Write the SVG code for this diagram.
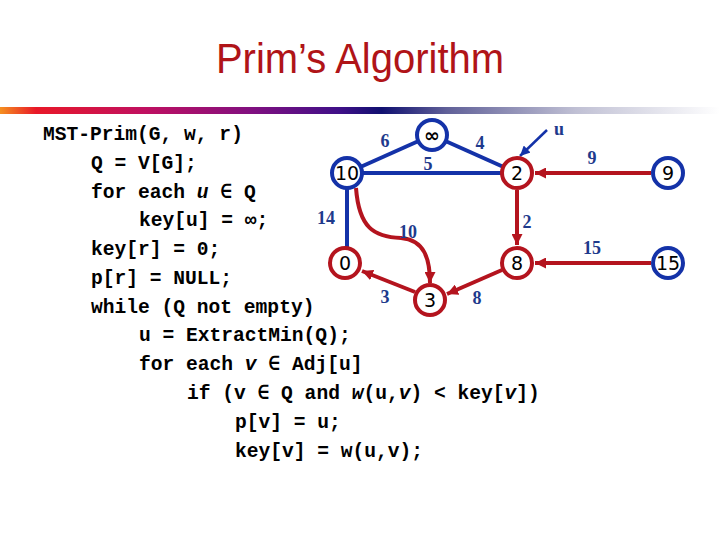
<svg xmlns="http://www.w3.org/2000/svg" width="720" height="540" viewBox="0 0 720 540">
<defs>
<linearGradient id="bar" x1="0" y1="0" x2="1" y2="0">
<stop offset="0" stop-color="#F59020"/>
<stop offset="0.05" stop-color="#E81828"/>
<stop offset="0.2" stop-color="#C01060"/>
<stop offset="0.35" stop-color="#801080"/>
<stop offset="0.47" stop-color="#401088"/>
<stop offset="0.53" stop-color="#101070"/>
<stop offset="0.62" stop-color="#606098"/>
<stop offset="0.8" stop-color="#C0C0D4"/>
<stop offset="1" stop-color="#FFFFFF"/>
</linearGradient>
<marker id="ar" viewBox="0 0 10 10" refX="10" refY="5" markerWidth="11" markerHeight="11" markerUnits="userSpaceOnUse" orient="auto">
<path d="M0,0 L10,5 L0,10 z" fill="#B4141E"/>
</marker>
<marker id="ab" viewBox="0 0 10 10" refX="10" refY="5" markerWidth="10" markerHeight="10" markerUnits="userSpaceOnUse" orient="auto">
<path d="M0,0 L10,5 L0,10 z" fill="#1432A8"/>
</marker>
</defs>
<style>
.title{font-family:"Liberation Sans",Arial,sans-serif;font-size:40px;fill:#B01418;}
.code{font-family:"Liberation Mono","Courier New",monospace;font-size:19.6px;font-weight:bold;fill:#000;}
.nb{fill:#fff;stroke:#1432A8;stroke-width:4;}
.nr{fill:#fff;stroke:#B4141E;stroke-width:4;}
.nt{font-family:"DejaVu Sans",Verdana,sans-serif;font-size:19px;fill:#000;text-anchor:middle;}
.eb{stroke:#1432A8;stroke-width:4;fill:none;}
.er{stroke:#B4141E;stroke-width:4;fill:none;marker-end:url(#ar);}
.w{font-family:"Liberation Serif","Times New Roman",serif;font-size:18px;font-weight:bold;fill:#1E3A8C;text-anchor:middle;}
</style>
<rect width="720" height="540" fill="#fff"/>
<text class="title" x="360" y="0" text-anchor="middle" transform="translate(0,73) scale(1,1.08)">Prim’s Algorithm</text>
<rect x="0" y="107" width="720" height="7" fill="url(#bar)"/>
<g id="code" class="code">
<text x="43" y="140">MST-Prim(G, w, r)</text>
<text x="91" y="169">Q = V[G];</text>
<text x="91" y="198">for each <tspan font-style="italic">u</tspan> ∈ Q</text>
<text x="139" y="226">key[u] = ∞;</text>
<text x="91" y="255">key[r] = 0;</text>
<text x="91" y="284">p[r] = NULL;</text>
<text x="91" y="313">while (Q not empty)</text>
<text x="139" y="341">u = ExtractMin(Q);</text>
<text x="139" y="370">for each <tspan font-style="italic">v</tspan> ∈ Adj[u]</text>
<text x="187" y="399">if (v ∈ Q and <tspan font-style="italic">w</tspan>(u,<tspan font-style="italic">v</tspan>) &lt; key[<tspan font-style="italic">v</tspan>])</text>
<text x="235" y="428">p[v] = u;</text>
<text x="235" y="457">key[v] = w(u,v);</text>
</g>
<g id="connectors">
<line class="eb" x1="347" y1="173" x2="432" y2="135"/>
<line class="eb" x1="432" y1="135" x2="517" y2="173"/>
<line class="eb" x1="347" y1="173" x2="517" y2="173"/>
<line class="eb" x1="347" y1="173" x2="347" y2="263"/>
<path class="er" d="M356,188 C359,228 374,237 401,238 C424,240 430,258 430,283"/>
<line class="er" x1="517" y1="190" x2="517" y2="245"/>
<line class="er" x1="502" y1="270" x2="447" y2="294"/>
<line class="er" x1="415" y1="292" x2="362" y2="271"/>
<line class="er" x1="651" y1="173" x2="535" y2="173"/>
<line class="er" x1="651" y1="263" x2="535" y2="263"/>
<line stroke="#1432A8" stroke-width="2.5" marker-end="url(#ab)" x1="547" y1="130" x2="520" y2="156"/>
<text class="w" x="385" y="147">6</text>
<text class="w" x="480" y="149">4</text>
<text class="w" x="428" y="170">5</text>
<text class="w" x="326" y="224">14</text>
<text class="w" x="408" y="238">10</text>
<text class="w" x="527" y="228">2</text>
<text class="w" x="385" y="303">3</text>
<text class="w" x="477" y="304">8</text>
<text class="w" x="592" y="164">9</text>
<text class="w" x="592" y="254">15</text>
<text class="w" x="559" y="135" font-size="20px">u</text>
</g>
<g id="n-inf"><circle class="nb" cx="432" cy="135" r="15"/><text class="nt" x="432" y="142" font-weight="bold">∞</text></g>
<g id="n-10"><circle class="nb" cx="347" cy="173" r="15"/><text class="nt" x="347" y="180">10</text></g>
<g id="n-2"><circle class="nr" cx="517" cy="173" r="15"/><text class="nt" x="517" y="180">2</text></g>
<g id="n-0"><circle class="nr" cx="345" cy="263" r="15"/><text class="nt" x="345" y="270">0</text></g>
<g id="n-8"><circle class="nr" cx="517" cy="263" r="15"/><text class="nt" x="517" y="270">8</text></g>
<g id="n-3"><circle class="nr" cx="430" cy="300" r="15"/><text class="nt" x="430" y="307">3</text></g>
<g id="n-9"><circle class="nb" cx="668" cy="173" r="15"/><text class="nt" x="668" y="180">9</text></g>
<g id="n-15"><circle class="nb" cx="668" cy="263" r="15"/><text class="nt" x="668" y="270">15</text></g>
</svg>
